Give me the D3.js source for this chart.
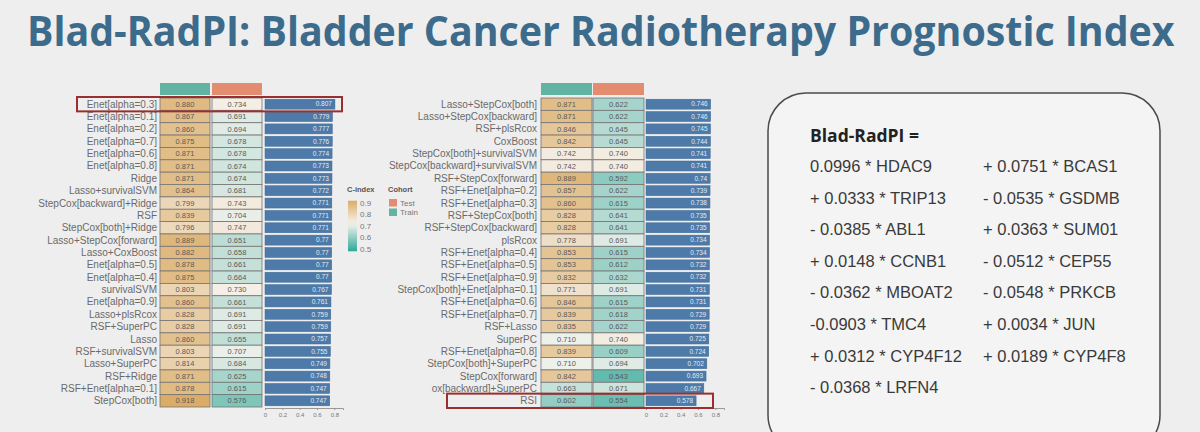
<!DOCTYPE html>
<html>
<head>
<meta charset="utf-8">
<script src="https://cdn.jsdelivr.net/npm/d3@7"></script>
<style>
    body { margin: 0; background: #eeeeee; }
    svg { display: block; }
</style>
</head>
<body>
<script>
// ---- data ----
var leftModels = ['Enet[alpha=0.3]', 'Enet[alpha=0.1]', 'Enet[alpha=0.2]', 'Enet[alpha=0.7]', 'Enet[alpha=0.6]',
    'Enet[alpha=0.8]', 'Ridge', 'Lasso+survivalSVM', 'StepCox[backward]+Ridge', 'RSF', 'StepCox[both]+Ridge',
    'Lasso+StepCox[forward]', 'Lasso+CoxBoost', 'Enet[alpha=0.5]', 'Enet[alpha=0.4]', 'survivalSVM',
    'Enet[alpha=0.9]', 'Lasso+plsRcox', 'RSF+SuperPC', 'Lasso', 'RSF+survivalSVM', 'Lasso+SuperPC',
    'RSF+Ridge', 'RSF+Enet[alpha=0.1]', 'StepCox[both]'];
var leftTrain = [0.880, 0.867, 0.860, 0.875, 0.871, 0.871, 0.871, 0.864, 0.799, 0.839, 0.796, 0.889, 0.882,
    0.878, 0.875, 0.803, 0.860, 0.828, 0.828, 0.860, 0.803, 0.814, 0.871, 0.878, 0.918];
var leftTest = [0.734, 0.691, 0.694, 0.678, 0.678, 0.674, 0.674, 0.681, 0.743, 0.704, 0.747, 0.651, 0.658,
    0.661, 0.664, 0.730, 0.661, 0.691, 0.691, 0.655, 0.707, 0.684, 0.625, 0.615, 0.576];
var leftMean = [0.807, 0.779, 0.777, 0.776, 0.774, 0.773, 0.773, 0.772, 0.771, 0.771, 0.771, 0.77, 0.77,
    0.77, 0.77, 0.767, 0.761, 0.759, 0.759, 0.757, 0.755, 0.749, 0.748, 0.747, 0.747];

var rightModels = ['Lasso+StepCox[both]', 'Lasso+StepCox[backward]', 'RSF+plsRcox', 'CoxBoost',
    'StepCox[both]+survivalSVM', 'StepCox[backward]+survivalSVM', 'RSF+StepCox[forward]', 'RSF+Enet[alpha=0.2]',
    'RSF+Enet[alpha=0.3]', 'RSF+StepCox[both]', 'RSF+StepCox[backward]', 'plsRcox', 'RSF+Enet[alpha=0.4]',
    'RSF+Enet[alpha=0.5]', 'RSF+Enet[alpha=0.9]', 'StepCox[both]+Enet[alpha=0.1]', 'RSF+Enet[alpha=0.6]',
    'RSF+Enet[alpha=0.7]', 'RSF+Lasso', 'SuperPC', 'RSF+Enet[alpha=0.8]', 'StepCox[both]+SuperPC',
    'StepCox[forward]', 'ox[backward]+SuperPC', 'RSI'];
var rightTrain = [0.871, 0.871, 0.846, 0.842, 0.742, 0.742, 0.889, 0.857, 0.860, 0.828, 0.828, 0.778, 0.853,
    0.853, 0.832, 0.771, 0.846, 0.839, 0.835, 0.710, 0.839, 0.710, 0.842, 0.663, 0.602];
var rightTest = [0.622, 0.622, 0.645, 0.645, 0.740, 0.740, 0.592, 0.622, 0.615, 0.641, 0.641, 0.691, 0.615,
    0.612, 0.632, 0.691, 0.615, 0.618, 0.622, 0.740, 0.609, 0.694, 0.543, 0.671, 0.554];
var rightMean = [0.746, 0.746, 0.745, 0.744, 0.741, 0.741, 0.74, 0.739, 0.738, 0.735, 0.735, 0.734, 0.734,
    0.732, 0.732, 0.731, 0.731, 0.729, 0.729, 0.725, 0.724, 0.702, 0.693, 0.667, 0.578];

var axisTicks = [0, 0.2, 0.4, 0.6, 0.8];
var legendTicks = [0.9, 0.8, 0.7, 0.6, 0.5];
var cohorts = ['Test', 'Train'];

var formulaTitle = 'Blad-RadPI =';
var formulaCol1 = ['0.0996 * HDAC9', '+ 0.0333 * TRIP13', '- 0.0385 * ABL1', '+ 0.0148 * CCNB1',
    '- 0.0362 * MBOAT2', '-0.0903 * TMC4', '+ 0.0312 * CYP4F12', '- 0.0368 * LRFN4'];
var formulaCol2 = ['+ 0.0751 * BCAS1', '- 0.0535 * GSDMB', '+ 0.0363 * SUM01', '- 0.0512 * CEP55',
    '- 0.0548 * PRKCB', '+ 0.0034 * JUN', '+ 0.0189 * CYP4F8'];

var titleText = 'Blad-RadPI: Bladder Cancer Radiotherapy Prognostic Index';

window.onload = function () {
    var w = 1200,
        h = 432;

    var svg = d3.select('body')
        .append('svg')
        .attr('width', w)
        .attr('height', h)
        .style('background-color', '#eeeeee');

    // title: squeeze horizontally so it spans the slide like the original narrow font
    var title = svg.append('text')
        .style('font-family', 'Open Sans')
        .style('font-weight', 700)
        .style('font-size', '41px')
        .style('fill', '#3c6b8b')
        .text(titleText);
    var natural = title.node().getComputedTextLength();
    title.attr('transform', 'translate(27,46) scale(' + (1148 / natural) + ',1)');

    var color = d3.scaleLinear()
        .domain([0.5, 0.72, 0.93])
        .range(['#3eae9f', '#f6f3ee', '#d9a85f']);

    var teal = '#62b4a2',
        salmon = '#e38c70',
        barFill = '#4d7aa8';

    var y = d3.scaleBand()
        .domain(d3.range(leftModels.length))
        .range([98, 407]);

    var fmt = d3.format('.3f');

    function drawPanel(models, train, test, mean, o) {
        var g = svg.append('g').attr('class', 'panel');
        var x = d3.scaleLinear().domain([0, 0.9]).range([o.barX, o.barX + 78]);

        // cohort header strips
        g.append('rect').attr('x', o.trainX).attr('y', 83).attr('width', o.colW).attr('height', 12)
            .style('fill', teal);
        g.append('rect').attr('x', o.testX).attr('y', 83).attr('width', o.colW).attr('height', 12)
            .style('fill', salmon);

        g.selectAll('.lab')
            .data(models)
            .enter()
            .append('text')
            .attr('class', 'lab')
            .attr('x', o.labelX)
            .attr('y', function (d, i) { return y(i) + y.bandwidth() / 2; })
            .attr('dy', '0.35em')
            .attr('text-anchor', 'end')
            .style('font-family', 'Liberation Sans')
            .style('font-size', '10px')
            .style('fill', '#6a6a6a')
            .text(function (d) { return d; });

        [[train, o.trainX], [test, o.testX]].forEach(function (col) {
            var cells = g.selectAll(null)
                .data(col[0])
                .enter()
                .append('g');
            cells.append('rect')
                .attr('x', col[1])
                .attr('y', function (d, i) { return y(i); })
                .attr('width', o.colW)
                .attr('height', y.bandwidth())
                .style('fill', function (d) { return color(d); })
                .style('stroke', '#747474')
                .style('stroke-width', 0.8);
            cells.append('text')
                .attr('x', col[1] + o.colW / 2)
                .attr('y', function (d, i) { return y(i) + y.bandwidth() / 2; })
                .attr('dy', '0.35em')
                .attr('text-anchor', 'middle')
                .style('font-family', 'Liberation Sans')
                .style('font-size', '7.5px')
                .style('fill', '#5a5a5a')
                .text(function (d) { return fmt(d); });
        });

        g.selectAll('.bar')
            .data(mean)
            .enter()
            .append('rect')
            .attr('class', 'bar')
            .attr('x', x(0))
            .attr('y', function (d, i) { return y(i) + 1.2; })
            .attr('width', function (d) { return x(d) - x(0); })
            .attr('height', y.bandwidth() - 2.4)
            .style('fill', barFill)
            .style('stroke', '#3f6b95')
            .style('stroke-width', 0.5);

        g.selectAll('.barlab')
            .data(mean)
            .enter()
            .append('text')
            .attr('class', 'barlab')
            .attr('x', function (d) { return x(d) - 3; })
            .attr('y', function (d, i) { return y(i) + y.bandwidth() / 2; })
            .attr('dy', '0.35em')
            .attr('text-anchor', 'end')
            .style('font-family', 'Liberation Sans')
            .style('font-size', '6.5px')
            .style('fill', '#e3eaf3')
            .text(function (d) { return String(d); });

        var axis = g.append('g')
            .attr('transform', 'translate(0,' + (y.range()[1] + 1) + ')')
            .call(d3.axisBottom(x).tickValues(axisTicks).tickSize(2).tickFormat(function (d) { return String(d); }));
        axis.select('.domain').style('stroke', '#999');
        axis.selectAll('.tick line').style('stroke', '#999');
        axis.selectAll('text')
            .style('font-family', 'Liberation Sans')
            .style('font-size', '6px')
            .style('fill', '#777');

        // highlight box
        g.append('rect')
            .attr('x', o.boxX)
            .attr('y', y(o.boxRow) - 1)
            .attr('width', o.boxW)
            .attr('height', y.bandwidth() + 2)
            .style('fill', 'none')
            .style('stroke', '#9a2f2f')
            .style('stroke-width', 2);
    }

    drawPanel(leftModels, leftTrain, leftTest, leftMean,
        { labelX: 157, trainX: 160, testX: 212, barX: 265, colW: 50, boxX: 77, boxW: 265, boxRow: 0 });
    drawPanel(rightModels, rightTrain, rightTest, rightMean,
        { labelX: 537, trainX: 541, testX: 593, barX: 646, colW: 51, boxX: 447, boxW: 266, boxRow: rightModels.length - 1 });

    // legend
    var legend = svg.append('g').attr('class', 'legend');
    var defs = svg.append('defs');
    var grad = defs.append('linearGradient')
        .attr('id', 'cgrad')
        .attr('x1', 0).attr('x2', 0).attr('y1', 0).attr('y2', 1);
    d3.range(0, 1.01, 0.1).forEach(function (t) {
        grad.append('stop')
            .attr('offset', t)
            .attr('stop-color', color(0.92 - t * 0.44));
    });
    var ly = d3.scaleLinear().domain([0.9, 0.5]).range([203, 249]);

    legend.append('text').attr('x', 347).attr('y', 192).text('C-index');
    legend.append('text').attr('x', 388).attr('y', 192).text('Cohort');
    legend.selectAll('text')
        .style('font-family', 'Liberation Sans')
        .style('font-weight', 700)
        .style('font-size', '7.5px')
        .style('fill', '#555');
    legend.append('rect')
        .attr('x', 348)
        .attr('y', ly(0.92))
        .attr('width', 9)
        .attr('height', ly(0.48) - ly(0.92))
        .style('fill', 'url(#cgrad)');
    legend.selectAll('.lt')
        .data(legendTicks)
        .enter()
        .append('text')
        .attr('class', 'lt')
        .attr('x', 360)
        .attr('y', function (d) { return ly(d); })
        .attr('dy', '0.35em')
        .style('font-family', 'Liberation Sans')
        .style('font-size', '8px')
        .style('fill', '#777')
        .text(function (d) { return d.toFixed(1); });
    legend.selectAll('.ck')
        .data(cohorts)
        .enter()
        .append('rect')
        .attr('class', 'ck')
        .attr('x', 389)
        .attr('y', function (d, i) { return 199 + i * 9.5; })
        .attr('width', 8)
        .attr('height', 7.5)
        .style('fill', function (d) { return d === 'Test' ? salmon : teal; });
    legend.selectAll('.cl')
        .data(cohorts)
        .enter()
        .append('text')
        .attr('class', 'cl')
        .attr('x', 400)
        .attr('y', function (d, i) { return 203 + i * 9.5; })
        .attr('dy', '0.35em')
        .style('font-family', 'Liberation Sans')
        .style('font-size', '8px')
        .style('fill', '#777')
        .text(function (d) { return d; });

    // formula box
    var box = svg.append('g').attr('class', 'formula');
    box.append('rect')
        .attr('x', 768)
        .attr('y', 93)
        .attr('width', 392)
        .attr('height', 360)
        .attr('rx', 38)
        .style('fill', '#f4f4f4')
        .style('stroke', '#4a4a4a')
        .style('stroke-width', 1.5);
    box.append('text')
        .attr('x', 810)
        .attr('y', 142)
        .style('font-family', 'Open Sans')
        .style('font-weight', 700)
        .style('font-size', '17.5px')
        .style('fill', '#222')
        .text(formulaTitle);
    [[formulaCol1, 810], [formulaCol2, 983]].forEach(function (col) {
        box.selectAll(null)
            .data(col[0])
            .enter()
            .append('text')
            .attr('x', col[1])
            .attr('y', function (d, i) { return 172 + i * 31.6; })
            .style('font-family', 'Liberation Sans')
            .style('font-size', '16.5px')
            .style('fill', '#3a3a3a')
            .text(function (d) { return d; });
    });
};
</script>
</body>
</html>
